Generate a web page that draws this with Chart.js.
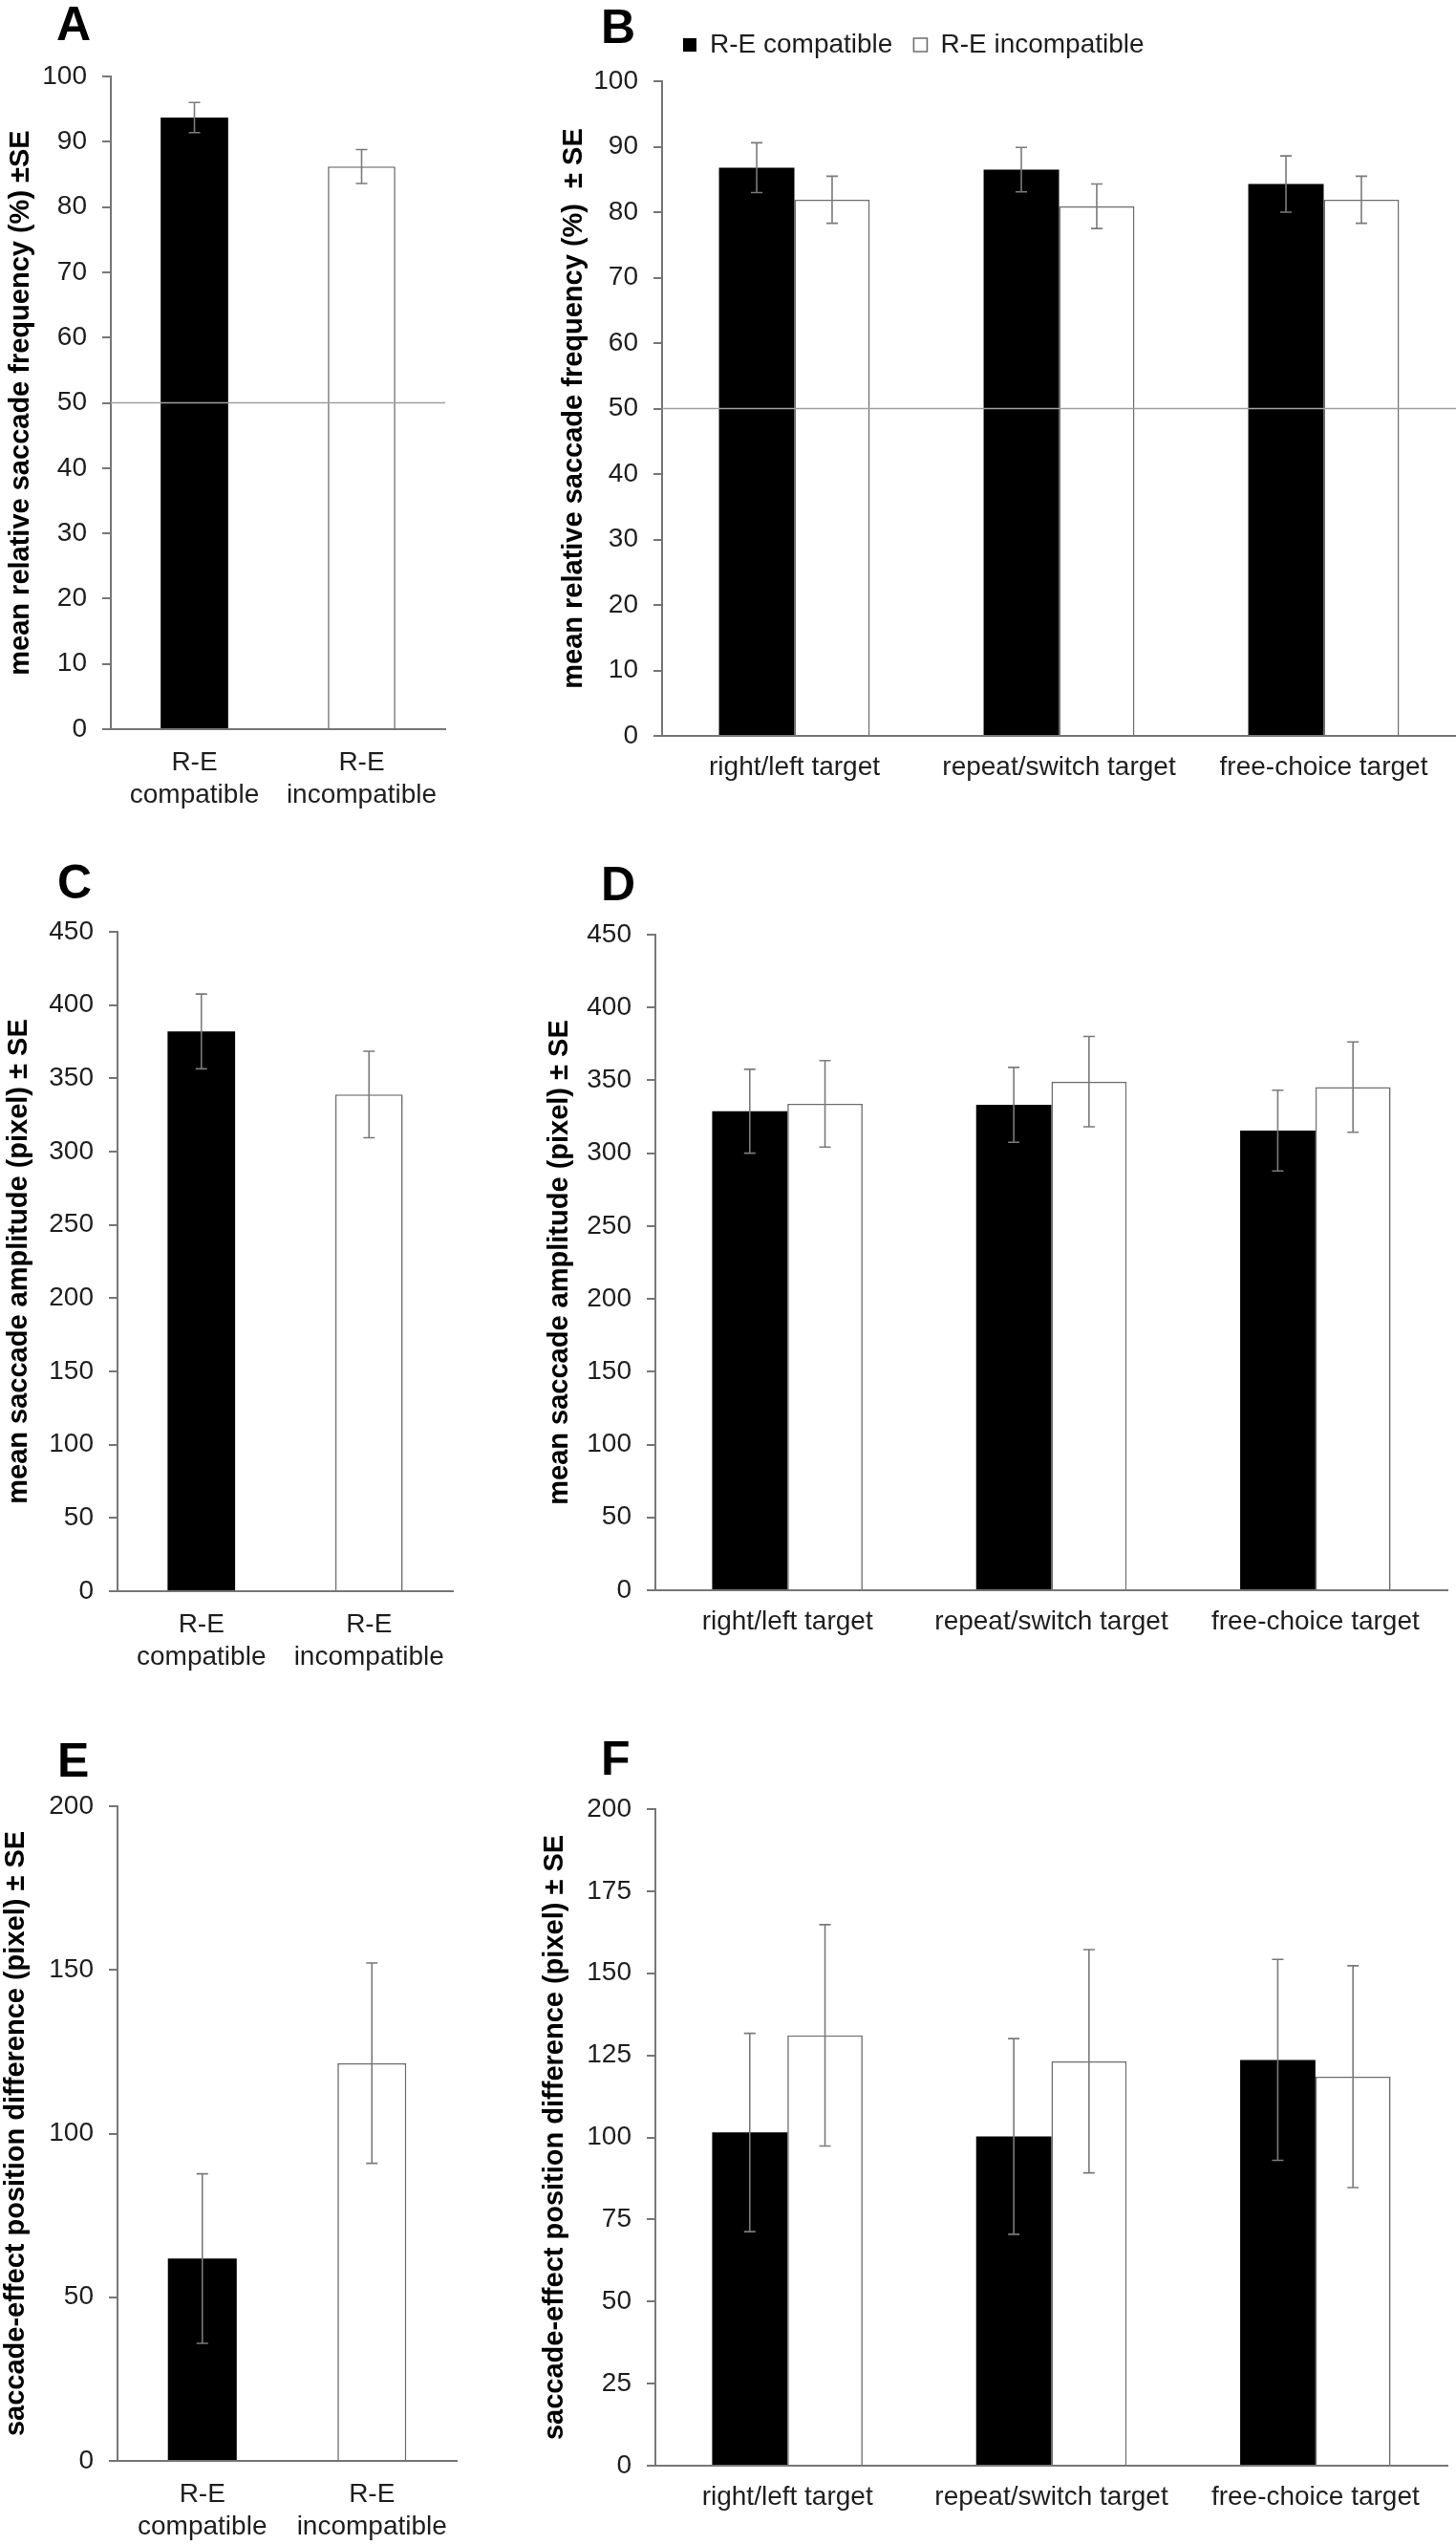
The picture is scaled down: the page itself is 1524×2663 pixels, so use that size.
<!DOCTYPE html>
<html><head><meta charset="utf-8">
<script src="https://cdn.jsdelivr.net/npm/chart.js@4.4.0/dist/chart.umd.min.js"></script>
<style>
html,body{margin:0;padding:0;background:#fff;}
#wrap{position:relative;width:1524px;height:2663px;background:#fff;overflow:hidden;}
canvas{position:absolute;}
.lt{position:absolute;font-family:"Liberation Sans",Arial,sans-serif;font-weight:bold;font-size:50px;line-height:50px;color:#000;}
</style></head><body>
<div id="wrap">
<div class="lt" style="left:59px;top:0px">A</div>
<div class="lt" style="left:629px;top:3px">B</div>
<div class="lt" style="left:60px;top:898px">C</div>
<div class="lt" style="left:629px;top:900px">D</div>
<div class="lt" style="left:60px;top:1817px">E</div>
<div class="lt" style="left:629px;top:1815px">F</div>
<canvas id="cA" width="520" height="870" style="left:0px;top:0px;width:520px;height:870px"></canvas>
<canvas id="cB" width="964" height="870" style="left:560px;top:0px;width:964px;height:870px"></canvas>
<canvas id="cC" width="520" height="880" style="left:0px;top:880px;width:520px;height:880px"></canvas>
<canvas id="cD" width="964" height="880" style="left:560px;top:880px;width:964px;height:880px"></canvas>
<canvas id="cE" width="520" height="893" style="left:0px;top:1770px;width:520px;height:893px"></canvas>
<canvas id="cF" width="964" height="893" style="left:560px;top:1770px;width:964px;height:893px"></canvas>
</div>
<script>
// ---------- data ----------
const singleCats = [['R-E','compatible'], ['R-E','incompatible']];
const groupCats = ['right/left target', 'repeat/switch target', 'free-choice target'];
const seriesNames = ['R-E compatible', 'R-E incompatible'];
const chanceLevel = 50;

const freqSingle = [93.7, 86.2];
const freqSingleSE = [2.3, 2.6];
const freqCompat = [86.8, 86.5, 84.3];
const freqCompatSE = [3.8, 3.4, 4.3];
const freqIncompat = [81.9, 80.9, 81.9];
const freqIncompatSE = [3.6, 3.4, 3.6];

const ampSingle = [382, 339];
const ampSingleSE = [25.5, 29.5];
const ampCompat = [328.8, 333.2, 315.5];
const ampCompatSE = [28.8, 25.7, 27.7];
const ampIncompat = [333.9, 349.1, 345.4];
const ampIncompatSE = [29.7, 31.0, 31.0];

const diffSingle = [61.8, 121.5];
const diffSingleSE = [25.9, 30.6];
const diffCompat = [101.5, 100.3, 123.6];
const diffCompatSE = [30.2, 29.8, 30.6];
const diffIncompat = [131.1, 123.2, 118.5];
const diffIncompatSE = [33.7, 34.0, 33.8];

const freqAxis = [0, 100, 10];
const ampAxis = [0, 450, 50];
const diffAxisE = [0, 200, 50];
const diffAxisF = [0, 200, 25];

const titleFreqA = 'mean relative saccade frequency (%) \u00b1SE';
const titleFreqB = 'mean relative saccade frequency (%)  \u00b1 SE';
const titleAmpC = 'mean saccade amplitude (pixel) \u00b1 SE';
const titleAmpD = 'mean saccade amplitude (pixel) \u00b1 SE';
const titleDiffE = 'saccade-effect position difference (pixel) \u00b1 SE';
const titleDiffF = 'saccade-effect position difference (pixel) \u00b1 SE';

// ---------- styling ----------
const AXIS = '#767676';
const ERR = '#7a7a7a';
const REF = '#a0a0a0';
const TXT = '#1e1e1e';
const arial = '"Liberation Sans", Arial, Helvetica, sans-serif';

// ---------- plugins ----------
const errPlugin = {
  id: 'errbars',
  afterDatasetsDraw(chart, args, opts) {
    if (!opts || !opts.se) return;
    const ctx = chart.ctx, ys = chart.scales.y;
    ctx.save();
    ctx.strokeStyle = ERR; ctx.lineWidth = 1.6;
    chart.data.datasets.forEach((ds, i) => {
      const meta = chart.getDatasetMeta(i);
      meta.data.forEach((el, j) => {
        const v = ds.data[j], e = opts.se[i][j];
        const x = el.x;
        const y1 = ys.getPixelForValue(v + e), y2 = ys.getPixelForValue(v - e);
        const c = 6;
        ctx.beginPath();
        ctx.moveTo(x, y1); ctx.lineTo(x, y2);
        ctx.moveTo(x - c, y1); ctx.lineTo(x + c, y1);
        ctx.moveTo(x - c, y2); ctx.lineTo(x + c, y2);
        ctx.stroke();
      });
    });
    ctx.restore();
  }
};
const refPlugin = {
  id: 'refline',
  afterDatasetsDraw(chart, args, opts) {
    if (!opts || opts.value === undefined || opts.value === null) return;
    const ctx = chart.ctx, ys = chart.scales.y, a = chart.chartArea;
    const y = ys.getPixelForValue(opts.value);
    ctx.save();
    ctx.strokeStyle = REF; ctx.lineWidth = 1.6;
    ctx.beginPath(); ctx.moveTo(a.left, y); ctx.lineTo(a.right, y); ctx.stroke();
    ctx.restore();
  }
};
Chart.register(errPlugin, refPlugin);

function build(id, p) {
  const datasets = p.datasets.map(d => ({
    label: d.label,
    data: d.data,
    backgroundColor: d.bg,
    borderColor: d.bc,
    borderWidth: d.bw,
    categoryPercentage: p.catPct,
    barPercentage: 1.0
  }));
  const tickFont = { family: arial, size: 28 };
  return new Chart(document.getElementById(id), {
    type: 'bar',
    data: { labels: p.labels, datasets },
    options: {
      responsive: false, animation: false, devicePixelRatio: 1,
      layout: { padding: { top: p.padTop, right: p.padRight, bottom: 0, left: 0 } },
      plugins: {
        legend: p.legend ? {
          display: true, position: 'top', align: 'start', fullSize: false,
          labels: { boxWidth: 14, boxHeight: 14, padding: 22, color: TXT,
                    font: { family: arial, size: 28 } }
        } : { display: false },
        // invisible spacer between legend and plot (panel B only)
        title: p.legend ? { display: true, text: ' ', weight: 500, fullSize: false,
                            padding: 0, font: { size: 10, lineHeight: 1.4 } } : { display: false },
        tooltip: { enabled: false },
        errbars: { se: p.se },
        refline: { value: p.ref }
      },
      scales: {
        x: {
          grid: { display: false, drawTicks: false },
          border: { display: true, color: AXIS, width: 2 },
          ticks: { font: Object.assign({ lineHeight: 1.214 }, tickFont), color: TXT, padding: p.xPad, maxRotation: 0, autoSkip: false },
          afterFit: s => { s.height = p.xh; }
        },
        y: {
          min: p.axis[0], max: p.axis[1],
          ticks: { stepSize: p.axis[2], font: tickFont, color: TXT, padding: 16 },
          grid: { drawOnChartArea: false, drawTicks: true, tickLength: 9, color: AXIS, lineWidth: 2 },
          border: { display: true, color: AXIS, width: 2 },
          title: { display: true, text: p.title, color: '#000',
                   font: { family: arial, size: 29, weight: 'bold', lineHeight: 1.2 },
                   padding: { top: p.titlePad, bottom: 0 } },
          afterFit: s => { s.width = p.yw; }
        }
      }
    }
  });
}

const blackBar = { bg: '#000000', bc: '#000000', bw: 0 };
const whiteBar = { bg: '#ffffff', bc: '#6e6e6e', bw: 1.6 };

function singleSet(vals) {
  return [{ label: 'value', data: vals, bg: ['#000000', '#ffffff'], bc: ['#000000', '#6e6e6e'], bw: [0, 1.6] }];
}
function pairSets(a, b) {
  return [
    Object.assign({ label: seriesNames[0], data: a }, blackBar),
    Object.assign({ label: seriesNames[1], data: b }, whiteBar)
  ];
}

build('cA', { labels: singleCats, datasets: singleSet(freqSingle), se: [freqSingleSE],
  ref: chanceLevel, axis: freqAxis, title: titleFreqA, xPad: 18,
  catPct: 0.404, padTop: 80, padRight: 54, xh: 107, yw: 116, titlePad: 5 });
build('cB', { labels: groupCats, datasets: pairSets(freqCompat, freqIncompat), se: [freqCompatSE, freqIncompatSE],
  ref: chanceLevel, axis: freqAxis, title: titleFreqB, xPad: 16,
  catPct: 0.57, padTop: 11, padRight: 0, xh: 100, yw: 133, titlePad: 24, legend: true });
build('cC', { labels: singleCats, datasets: singleSet(ampSingle), se: [ampSingleSE],
  ref: null, axis: ampAxis, title: titleAmpC, xPad: 18,
  catPct: 0.403, padTop: 95, padRight: 46, xh: 95, yw: 123, titlePad: 3 });
build('cD', { labels: groupCats, datasets: pairSets(ampCompat, ampIncompat), se: [ampCompatSE, ampIncompatSE],
  ref: null, axis: ampAxis, title: titleAmpD, xPad: 16,
  catPct: 0.57, padTop: 98, padRight: 9, xh: 96, yw: 126, titlePad: 9 });
build('cE', { labels: singleCats, datasets: singleSet(diffSingle), se: [diffSingleSE],
  ref: null, axis: diffAxisE, title: titleDiffE, xPad: 18,
  catPct: 0.406, padTop: 120, padRight: 42, xh: 88, yw: 123, titlePad: 0 });
build('cF', { labels: groupCats, datasets: pairSets(diffCompat, diffIncompat), se: [diffCompatSE, diffIncompatSE],
  ref: null, axis: diffAxisF, title: titleDiffF, xPad: 16,
  catPct: 0.57, padTop: 123, padRight: 9, xh: 83, yw: 126, titlePad: 4 });
</script>
</body></html>
